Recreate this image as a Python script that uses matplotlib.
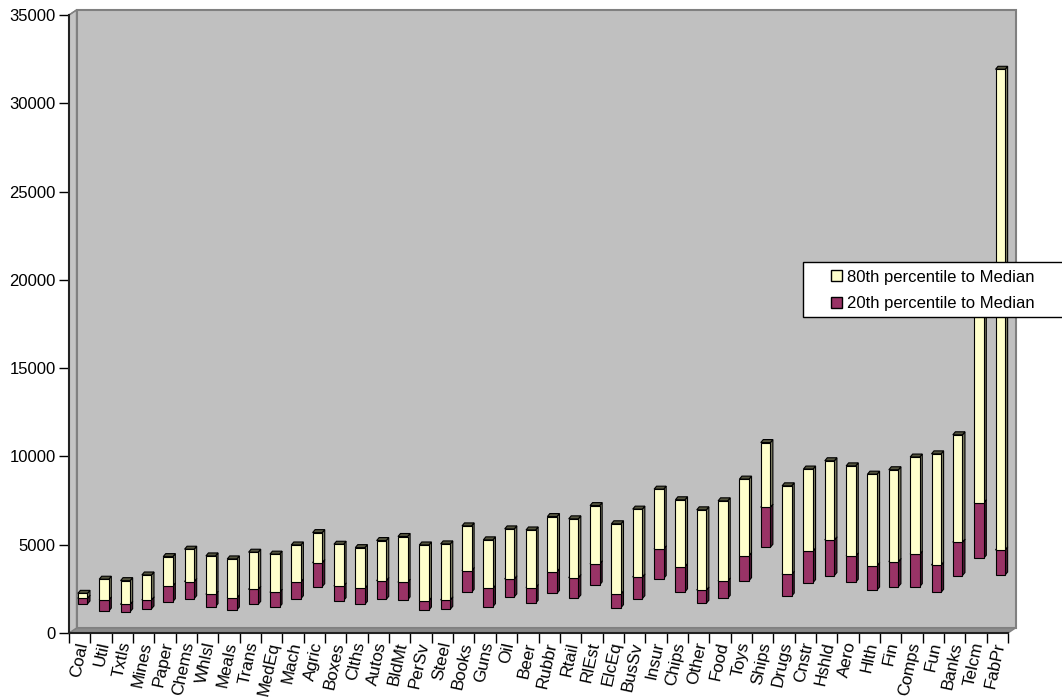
import matplotlib
matplotlib.use("Agg")
import matplotlib.pyplot as plt
import matplotlib.transforms as mtransforms
from matplotlib.patches import Polygon, Rectangle, Patch

plt.rcParams['font.family'] = ['Liberation Sans', 'DejaVu Sans']

# dados
categorias = ["Coal", "Util", "Txtls", "Mines", "Paper", "Chems", "Whlsl", "Meals",
              "Trans", "MedEq", "Mach", "Agric", "Boxes", "Clths", "Autos", "BldMt",
              "PerSv", "Steel", "Books", "Guns", "Oil", "Beer", "Rubbr", "Rtail",
              "RlEst", "ElcEq", "BusSv", "Insur", "Chips", "Other", "Food", "Toys",
              "Ships", "Drugs", "Cnstr", "Hshld", "Aero", "Hlth", "Fin", "Comps",
              "Fun", "Banks", "Telcm", "FabPr"]
p20 = [1560, 1160, 1120, 1280, 1690, 1860, 1410, 1220, 1540, 1390, 1860, 2540,
       1750, 1540, 1820, 1790, 1220, 1260, 2220, 1410, 1960, 1600, 2160, 1900,
       2640, 1350, 1860, 3000, 2250, 1600, 1880, 2880, 4770, 2010, 2770, 3170,
       2790, 2350, 2540, 2540, 2220, 3170, 4150, 3200]
mediana = [1880, 1790, 1540, 1790, 2580, 2830, 2110, 1900, 2390, 2220, 2810, 3900,
           2580, 2450, 2880, 2790, 1750, 1790, 3450, 2450, 2980, 2490, 3390, 3050,
           3830, 2130, 3090, 4680, 3680, 2350, 2860, 4300, 7040, 3240, 4560, 5190,
           4280, 3730, 3960, 4380, 3770, 5060, 7300, 4620]
p80 = [2160, 2960, 2880, 3200, 4240, 4660, 4280, 4110, 4490, 4380, 4900, 5600,
       4940, 4750, 5150, 5380, 4900, 4960, 5980, 5190, 5810, 5750, 6510, 6380,
       7130, 6100, 6930, 8060, 7460, 6890, 7400, 8630, 10700, 8250, 9200, 9670,
       9380, 8910, 9160, 9880, 10060, 11140, 19500, 31840]

amarelo, amarelo_lado, amarelo_topo = "#FFFFCC", "#7d7d63", "#55553f"
roxo, roxo_lado, roxo_topo = "#993366", "#4d1a33", "#3a1226"

fig = plt.figure(figsize=(10.62, 7), dpi=100)
ax = fig.add_axes([69/1062, 67/700, 939/1062, 618/700])
ax.set_facecolor("none")
ax.set_xlim(0, len(categorias))
ax.set_ylim(0, 35000)

ident = mtransforms.IdentityTransform()
DX, DY = 7.5, 5  # profundidade da caixa 3d (pixels)

def disp(x, y, t):
    return t.transform((x, y))

# parede do fundo, chao e parede lateral
p00 = disp(0, 0, ax.transAxes)
p10 = disp(1, 0, ax.transAxes)
p01 = disp(0, 1, ax.transAxes)
p11 = disp(1, 1, ax.transAxes)
sh = lambda p: (p[0] + DX, p[1] + DY)
ax.add_patch(Polygon([sh(p00), sh(p10), sh(p11), sh(p01)], closed=True, transform=ident,
                     facecolor="#C0C0C0", edgecolor="#808080", lw=1.5, zorder=0, clip_on=False))
ax.add_patch(Polygon([p00, p10, sh(p10), sh(p00)], closed=True, transform=ident,
                     facecolor="#8c8c8c", edgecolor="#808080", lw=1, zorder=0.5, clip_on=False))
ax.add_patch(Polygon([p00, p01, sh(p01), sh(p00)], closed=True, transform=ident,
                     facecolor="#c4c4c4", edgecolor="#808080", lw=1, zorder=0.5, clip_on=False))
ax.plot([p01[0], sh(p01)[0]], [p01[1], sh(p01)[1]], color="#808080", lw=1, transform=ident, clip_on=False)

# barras flutuantes 3d
FX, FY = 3, 1.5
bx, by = 2.5, 3
w = 0.45

def barra(x, lo, hi, fc, sc, tc):
    x0, y0 = disp(x - w/2, lo, ax.transData)
    x1, y1 = disp(x + w/2, hi, ax.transData)
    x0 += FX; x1 += FX; y0 += FY; y1 += FY
    kw = dict(closed=True, transform=ident, edgecolor="black", lw=0.8, zorder=2, clip_on=False)
    ax.add_patch(Polygon([(x1, y0), (x1 + bx, y0 + by), (x1 + bx, y1 + by), (x1, y1)], facecolor=sc, **kw))
    ax.add_patch(Polygon([(x0, y1), (x1, y1), (x1 + bx, y1 + by), (x0 + bx, y1 + by)], facecolor=tc, **kw))
    ax.add_patch(Polygon([(x0, y0), (x1, y0), (x1, y1), (x0, y1)], facecolor=fc, **kw))

for i in range(len(categorias)):
    barra(i + 0.5, p20[i], mediana[i], roxo, roxo_lado, roxo_topo)
    barra(i + 0.5, mediana[i], p80[i], amarelo, amarelo_lado, amarelo_topo)

# eixos
for s in ["top", "right"]:
    ax.spines[s].set_visible(False)
ax.spines["left"].set_color("#222222")
ax.spines["bottom"].set_color("#222222")
ax.spines["left"].set_linewidth(1.5)
ax.spines["bottom"].set_linewidth(1.5)
ax.set_yticks(range(0, 35001, 5000))
ax.tick_params(axis="y", length=7.5, width=1, labelsize=12, pad=2, colors="black")
ax.set_xticks([i + 0.5 for i in range(len(categorias))])
ax.set_xticks(range(len(categorias) + 1), minor=True)
ax.set_xticklabels(categorias, fontsize=12.3, rotation=78, ha="right", va="center",
                   rotation_mode="anchor")
ax.tick_params(axis="x", which="major", length=0, pad=6.5)
ax.tick_params(axis="x", which="minor", length=7.5, width=1, color="black")
desloc = mtransforms.ScaledTranslation(3/100, 0, fig.dpi_scale_trans)
for lab in ax.get_xticklabels():
    lab.set_transform(lab.get_transform() + desloc)

# legenda
fig.add_artist(Rectangle((803/1062, (700-317)/700), 300/1062, 55/700, transform=fig.transFigure,
                         facecolor="white", edgecolor="black", lw=1, zorder=4))
handles = [Patch(facecolor=amarelo, edgecolor="black"), Patch(facecolor=roxo, edgecolor="black")]
fig.legend(handles, ["80th percentile to Median", "20th percentile to Median"],
           loc="center left", bbox_to_anchor=(831/1062, (700-290.5)/700), frameon=False,
           fontsize=12, borderpad=0, borderaxespad=0, handlelength=0.65, handleheight=0.65,
           handletextpad=0.3, labelspacing=0.7)

fig.savefig("out.png", dpi=100)
